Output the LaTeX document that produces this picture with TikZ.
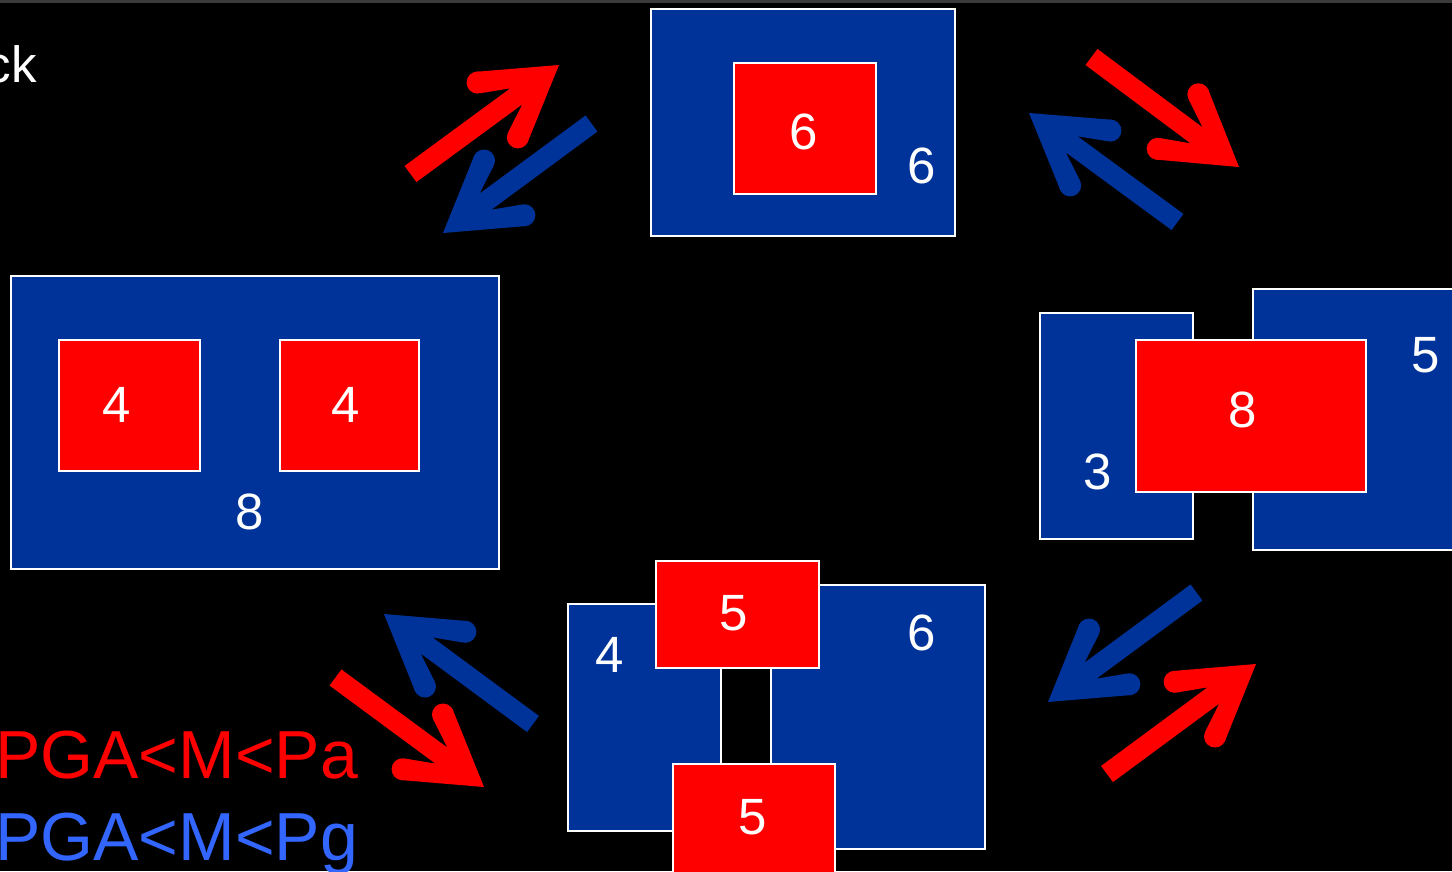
\documentclass[tikz,border=0pt]{standalone}
\usepackage{fontspec}
\setmainfont{Liberation Sans}
\usetikzlibrary{calc}
\definecolor{cellblue}{RGB}{0,51,153}
\definecolor{textblue}{RGB}{51,102,255}
\definecolor{rulegray}{RGB}{58,58,58}
\tikzset{
  bluebox/.style={draw=white, line width=2pt, fill=cellblue, anchor=north west, inner sep=0pt},
  redbox/.style={draw=white, line width=2pt, fill=red, anchor=north west, inner sep=0pt},
  num/.style={text=white, inner sep=0pt, font=\fontsize{51}{51}\selectfont},
  ratio/.style={inner sep=0pt, anchor=base west, font=\fontsize{68}{68}\selectfont},
}
% fat arrow from tail #1 to tip #2 in colour #3
\newcommand{\fatarrow}[3]{%
  \fill[#3] ($(#1)!10pt!-90:(#2)$) -- ($(#2)!53.9pt!10.7:(#1)$)
    -- ($(#2)!84pt!16.6:(#1)$) -- ($(#2)!83.95pt!31.6:(#1)$) -- (#2)
    -- ($(#2)!83.95pt!-31.6:(#1)$) -- ($(#2)!84pt!-16.6:(#1)$)
    -- ($(#2)!53.9pt!-10.7:(#1)$) -- ($(#1)!10pt!90:(#2)$) -- cycle;
  \fill[#3] ($(#2)!83.3pt!24.1:(#1)$) circle (11pt) ($(#2)!83.3pt!-24.1:(#1)$) circle (11pt);
}
\begin{document}
\begin{tikzpicture}[x=1pt, y=-1pt]
    \useasboundingbox (0,0) rectangle (1452,871);
    \fill[black] (0,0) rectangle (1452,871);
    \fill[rulegray] (0,0) rectangle (1452,2.5);% top rule

    \node[num, anchor=base east] (cktext) at (37,82) {ck};

    % top cell
    \node[bluebox, minimum width=304pt, minimum height=227pt] (topblue) at (650,8) {};
    \node[redbox, minimum width=142pt, minimum height=131pt] (topred) at (733,62) {};
    \node[num] (topredlbl) at (804,132) {6};
    \node[num] (topbluelbl) at (922,166) {6};

    % left cell
    \node[bluebox, minimum width=488pt, minimum height=293pt] (leftblue) at (10,275) {};
    \node[redbox, minimum width=141pt, minimum height=131pt] (leftredA) at (58,339) {};
    \node[redbox, minimum width=139pt, minimum height=131pt] (leftredB) at (279,339) {};
    \node[num] (leftredAlbl) at (117,405) {4};
    \node[num] (leftredBlbl) at (346,405) {4};
    \node[num] (leftbluelbl) at (250,512) {8};

    % right cell
    \node[bluebox, minimum width=153pt, minimum height=226pt] (rightblueA) at (1039,312) {};
    \node[bluebox, minimum width=220pt, minimum height=261pt] (rightblueB) at (1252,288) {};
    \node[redbox, minimum width=230pt, minimum height=152pt] (rightred) at (1135,339) {};
    \node[num] (rightblueAlbl) at (1098,472) {3};
    \node[num] (rightblueBlbl) at (1426,355) {5};
    \node[num] (rightredlbl) at (1243,410) {8};

    % bottom cell
    \node[bluebox, minimum width=153pt, minimum height=227pt] (botblueA) at (567,603) {};
    \node[bluebox, minimum width=214pt, minimum height=264pt] (botblueB) at (770,584) {};
    \node[redbox, minimum width=163pt, minimum height=107pt] (botredA) at (655,560) {};
    \node[redbox, minimum width=162pt, minimum height=130pt] (botredB) at (672,763) {};
    \node[num] (botblueAlbl) at (610,655) {4};
    \node[num] (botblueBlbl) at (922,633) {6};
    \node[num] (botredAlbl) at (734,613) {5};
    \node[num] (botredBlbl) at (753,817) {5};

    \node[ratio, text=red] (ratioA) at (-5,778) {PGA<M<Pa};
    \node[ratio, text=textblue] (ratioG) at (-5,860) {PGA<M<Pg};

    % arrows
    \coordinate (ArrA1) at (410.5,174);   \coordinate (ArrA2) at (559,65);
    \coordinate (ArrB1) at (591.5,123.5); \coordinate (ArrB2) at (443,233);
    \coordinate (ArrC1) at (1091.5,57);   \coordinate (ArrC2) at (1239,167);
    \coordinate (ArrD1) at (1177.5,222);  \coordinate (ArrD2) at (1029,113);
    \coordinate (ArrE1) at (533,724);     \coordinate (ArrE2) at (384,614);
    \coordinate (ArrF1) at (335.5,677.5); \coordinate (ArrF2) at (484,787);
    \coordinate (ArrG1) at (1196.5,592.5);\coordinate (ArrG2) at (1048,702);
    \coordinate (ArrH1) at (1107,774);    \coordinate (ArrH2) at (1256,664);
    \fatarrow{ArrA1}{ArrA2}{red}
    \fatarrow{ArrB1}{ArrB2}{cellblue}
    \fatarrow{ArrC1}{ArrC2}{red}
    \fatarrow{ArrD1}{ArrD2}{cellblue}
    \fatarrow{ArrE1}{ArrE2}{cellblue}
    \fatarrow{ArrF1}{ArrF2}{red}
    \fatarrow{ArrG1}{ArrG2}{cellblue}
    \fatarrow{ArrH1}{ArrH2}{red}
\end{tikzpicture}
\end{document}
